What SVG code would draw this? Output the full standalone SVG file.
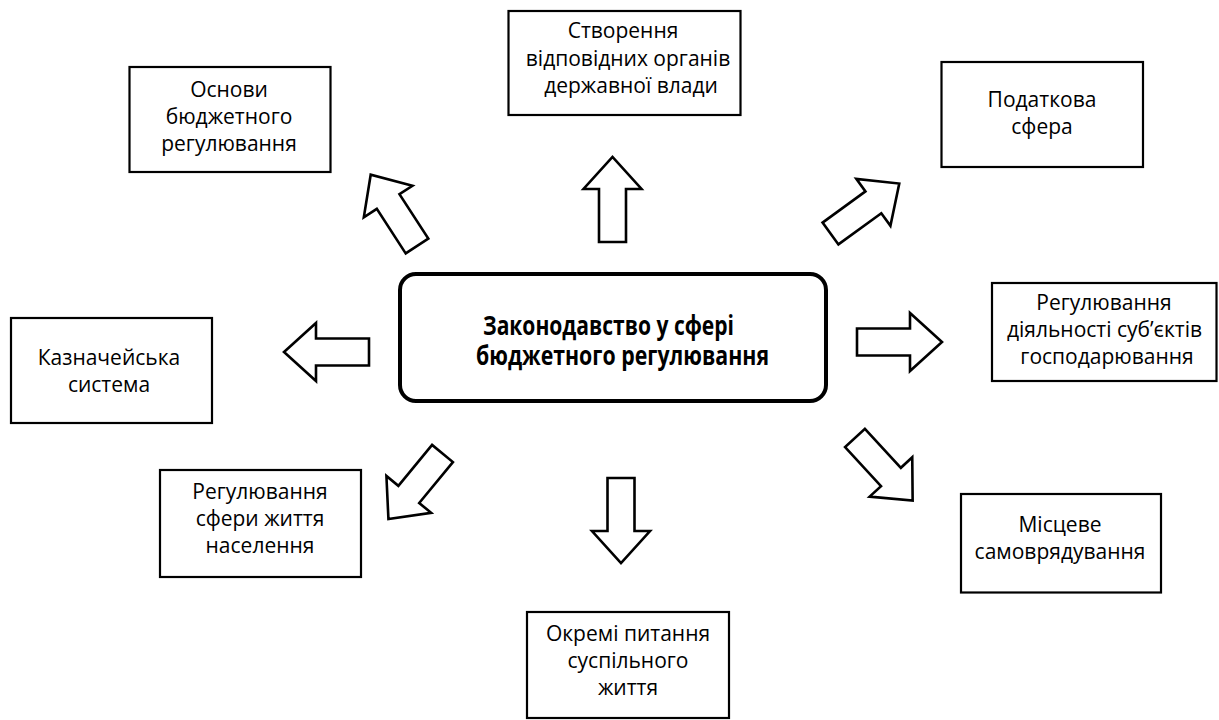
<svg xmlns="http://www.w3.org/2000/svg" width="1219" height="720" viewBox="0 0 1219 720">
  <style>
    .box { fill: #ffffff; stroke: #000000; stroke-width: 2.2; }
    .main { fill: #ffffff; stroke: #000000; stroke-width: 4; }
    .arrow { fill: #ffffff; stroke: #000000; stroke-width: 2.6; stroke-linejoin: miter; }
    .t { font-family: "Open Sans", "Noto Sans", "DejaVu Sans", sans-serif; font-size: 21px; fill: #000000; text-anchor: middle; }
    .tb { font-family: "Open Sans", "Noto Sans", "DejaVu Sans", sans-serif; font-size: 26px; font-weight: bold; fill: #000000; }
  </style>
  <defs>
    <path id="arr" d="M0,-13.5 H53 V-29 L85,0 L53,29 V13.5 H0 Z"/>
  </defs>
  <rect x="0" y="0" width="1219" height="720" fill="#ffffff"/>

  <g id="connectors">
    <use href="#arr" class="arrow" transform="translate(612.5,242) rotate(-90)"/>
    <use href="#arr" class="arrow" transform="translate(621,478) rotate(90)"/>
    <use href="#arr" class="arrow" transform="translate(369,352) rotate(180)"/>
    <use href="#arr" class="arrow" transform="translate(857,342)"/>
    <use href="#arr" class="arrow" transform="translate(417,246) rotate(-123)"/>
    <use href="#arr" class="arrow" transform="translate(830.5,233.5) rotate(-36)"/>
    <use href="#arr" class="arrow" transform="translate(442.5,453.5) rotate(129.5)"/>
    <use href="#arr" class="arrow" transform="translate(855,438) rotate(47.3)"/>
  </g>

  <g id="center">
    <rect class="main" x="400" y="274" width="426" height="127" rx="16" ry="16"/>
    <text class="tb" x="483" y="335" textLength="251" lengthAdjust="spacingAndGlyphs">Законодавство у сфері</text>
    <text class="tb" x="476" y="365" textLength="293" lengthAdjust="spacingAndGlyphs">бюджетного регулювання</text>
  </g>

  <g id="node-osnovy">
    <rect class="box" x="129.5" y="67" width="201" height="105"/>
    <text class="t" x="229" y="97">Основи</text>
    <text class="t" x="229" y="124">бюджетного</text>
    <text class="t" x="229" y="151">регулювання</text>
  </g>

  <g id="node-stvorennia">
    <rect class="box" x="508.5" y="11" width="232" height="104"/>
    <text class="t" x="623" y="38">Створення</text>
    <text class="t" x="628" y="65.5">відповідних органів</text>
    <text class="t" x="631" y="92.5">державної влади</text>
  </g>

  <g id="node-podatkova">
    <rect class="box" x="941.5" y="62" width="201.5" height="105"/>
    <text class="t" x="1042" y="107">Податкова</text>
    <text class="t" x="1042" y="134">сфера</text>
  </g>

  <g id="node-kaznacheiska">
    <rect class="box" x="11" y="318" width="201" height="105"/>
    <text class="t" x="109" y="365">Казначейська</text>
    <text class="t" x="109" y="392">система</text>
  </g>

  <g id="node-diialnist">
    <rect class="box" x="992" y="283" width="224.5" height="98"/>
    <text class="t" x="1104" y="310">Регулювання</text>
    <text class="t" x="1104.5" y="337">діяльності суб’єктів</text>
    <text class="t" x="1107" y="364">господарювання</text>
  </g>

  <g id="node-sfera-zhyttia">
    <rect class="box" x="160" y="470" width="201" height="107"/>
    <text class="t" x="260" y="499">Регулювання</text>
    <text class="t" x="260" y="526">сфери життя</text>
    <text class="t" x="260" y="553">населення</text>
  </g>

  <g id="node-okremi">
    <rect class="box" x="527" y="612" width="202" height="106"/>
    <text class="t" x="628" y="641">Окремі питання</text>
    <text class="t" x="628" y="668">суспільного</text>
    <text class="t" x="628" y="695">життя</text>
  </g>

  <g id="node-mistseve">
    <rect class="box" x="961" y="494" width="200" height="98.5"/>
    <text class="t" x="1060" y="532">Місцеве</text>
    <text class="t" x="1060" y="559">самоврядування</text>
  </g>
</svg>
